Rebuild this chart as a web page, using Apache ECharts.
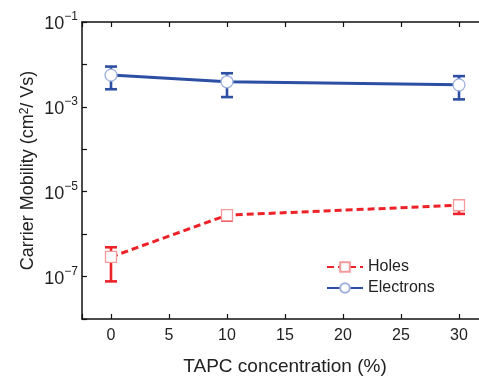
<!DOCTYPE html>
<html>
<head>
<meta charset="utf-8">
<script src="https://cdn.jsdelivr.net/npm/echarts@6/dist/echarts.min.js"></script>
<style>html,body{margin:0;padding:0;background:#fff;}#c{width:479px;height:377px;}</style>
</head>
<body>
<div id="c"></div>
<script>
// ---- data ----
const concentrations = [0, 10, 30];
const holes = [2.9e-7, 2.8e-6, 4.8e-6];
const holesErrLow = [7.7e-8, 2.1e-6, 3.0e-6];
const holesErrHigh = [4.9e-7, 3.6e-6, 6.0e-6];
const electrons = [5.6e-3, 3.9e-3, 3.3e-3];
const electronsErrLow = [2.6e-3, 1.7e-3, 1.5e-3];
const electronsErrHigh = [8.9e-3, 6.2e-3, 5.3e-3];
const xTicks = [0, 5, 10, 15, 20, 25, 30];
const yTickLabels = [-1, -3, -5, -7];

const RED = '#ec2228';
const BLUE = '#2c4fa3';
const FONT = 'Liberation Sans, Arial, sans-serif';

function errItem(color) {
  return function (params, api) {
    const x = api.value(0);
    const lo = api.coord([x, api.value(1)]);
    const hi = api.coord([x, api.value(2)]);
    const hw = 6;
    const st = { stroke: color, lineWidth: 2.6 };
    return {
      type: 'group',
      children: [
        { type: 'line', shape: { x1: lo[0], y1: lo[1], x2: hi[0], y2: hi[1] }, style: st },
        { type: 'line', shape: { x1: lo[0] - hw, y1: lo[1], x2: lo[0] + hw, y2: lo[1] }, style: st },
        { type: 'line', shape: { x1: hi[0] - hw, y1: hi[1], x2: hi[0] + hw, y2: hi[1] }, style: st }
      ]
    };
  };
}

const chart = echarts.init(document.getElementById('c'), null, { renderer: 'canvas' });
const axisLine = { show: true, onZero: false, lineStyle: { color: '#111', width: 1.5 } };
chart.setOption({
  animation: false,
  textStyle: { fontFamily: FONT },
  grid: { left: 82, right: -9, top: 22, bottom: 58, containLabel: false, outerBoundsMode: 'none' },
  legend: {
    data: ['Holes', 'Electrons'],
    orient: 'vertical',
    left: 321, top: 254,
    itemWidth: 36, itemHeight: 12, itemGap: 5,
    textStyle: { fontSize: 16, color: '#222', fontFamily: FONT }
  },
  xAxis: [{
    type: 'value', min: -2.5, max: 32.5, splitNumber: 7,
    name: 'TAPC concentration (%)', nameLocation: 'middle', nameGap: 38,
    nameTextStyle: { fontSize: 19, color: '#222', fontFamily: FONT },
    axisLine: axisLine,
    axisTick: { inside: true, length: 5, lineStyle: { color: '#111', width: 1.2 } },
    axisLabel: { fontSize: 16, color: '#222', margin: 9, fontFamily: FONT,
      formatter: v => (xTicks.indexOf(v) >= 0 ? String(v) : '') },
    splitLine: { show: false }
  }, {
    type: 'value', min: -2.5, max: 32.5, splitNumber: 7, position: 'top',
    axisLine: axisLine,
    axisTick: { inside: true, length: 5, lineStyle: { color: '#111', width: 1.2 } },
    axisLabel: { show: false }, splitLine: { show: false }
  }],
  yAxis: [{
    type: 'log', logBase: 10, min: 1e-8, max: 1e-1, splitNumber: 7,
    name: 'Carrier Mobility (cm{s|2}/ Vs)', nameLocation: 'middle', nameGap: 45, nameMoveOverlap: false,
    nameTextStyle: { fontSize: 18, color: '#222', fontFamily: FONT,
      rich: { s: { fontSize: 12, verticalAlign: 'top', lineHeight: 12, color: '#222', fontFamily: FONT } } },
    axisLine: axisLine,
    axisTick: { inside: true, length: 5, lineStyle: { color: '#111', width: 1.2 } },
    axisLabel: {
      margin: 4, color: '#222',
      formatter: function (v) {
        const e = Math.round(Math.log10(v));
        return yTickLabels.indexOf(e) >= 0 ? '{b|10}{s|' + String(e).replace('-', '\u2212') + '}' : '';
      },
      rich: {
        b: { fontSize: 18, lineHeight: 22, verticalAlign: 'bottom', color: '#222', fontFamily: FONT },
        s: { fontSize: 12, lineHeight: 12, verticalAlign: 'top', color: '#222', fontFamily: FONT }
      }
    },
    splitLine: { show: false }
  }, {
    type: 'log', logBase: 10, min: 1e-8, max: 1e-1, splitNumber: 7, position: 'right',
    axisLine: axisLine, axisTick: { inside: true, length: 5 }, axisLabel: { show: false }, splitLine: { show: false }
  }],
  series: [
    {
      name: 'HolesErr', type: 'custom', z: 1,
      renderItem: errItem(RED),
      data: concentrations.map((x, i) => [x, holesErrLow[i], holesErrHigh[i]])
    },
    {
      name: 'ElectronsErr', type: 'custom', z: 1,
      renderItem: errItem(BLUE),
      data: concentrations.map((x, i) => [x, electronsErrLow[i], electronsErrHigh[i]])
    },
    {
      name: 'Holes', type: 'line', z: 3,
      data: concentrations.map((x, i) => [x, holes[i]]),
      symbol: 'rect', symbolSize: 11,
      lineStyle: { color: RED, width: 3, type: [7, 4] },
      itemStyle: { color: '#fff', borderColor: '#f59a9a', borderWidth: 1.3 }
    },
    {
      name: 'Electrons', type: 'line', z: 3,
      data: concentrations.map((x, i) => [x, electrons[i]]),
      symbol: 'circle', symbolSize: 12,
      lineStyle: { color: BLUE, width: 3 },
      itemStyle: { color: '#fff', borderColor: '#9db0df', borderWidth: 1.3 }
    }
  ]
});
</script>
</body>
</html>
